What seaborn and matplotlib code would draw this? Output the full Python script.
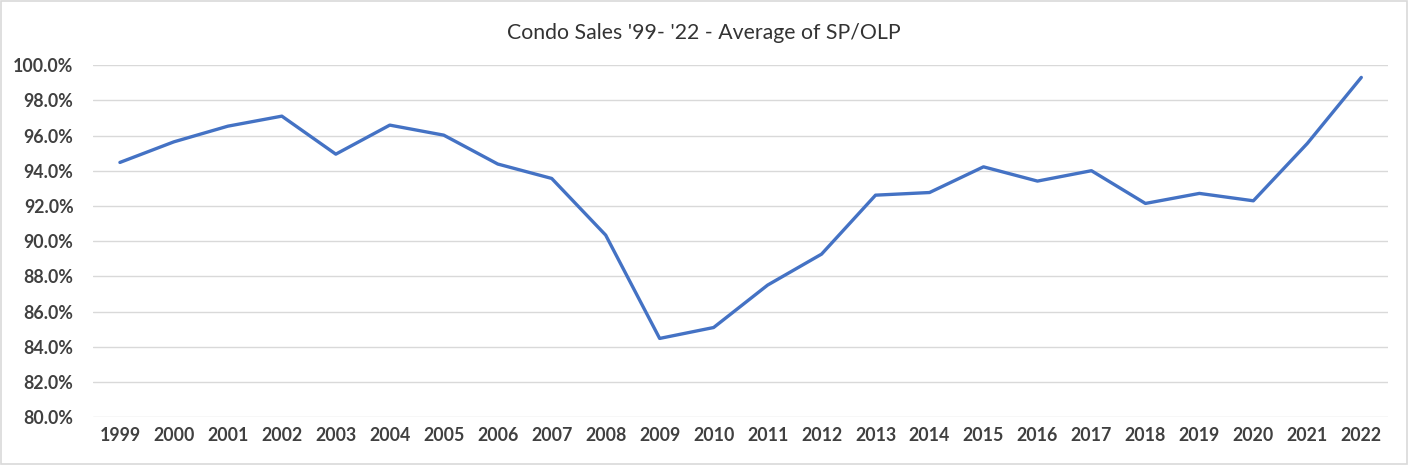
import matplotlib
matplotlib.use("Agg")
import matplotlib.pyplot as plt
import seaborn as sns
import pandas as pd
from matplotlib.patches import Rectangle

# data
years = [str(y) for y in range(1999, 2023)]
sp_olp = [94.47, 95.64, 96.53, 97.1, 94.94, 96.59, 96.02, 94.38, 93.56, 90.34,
          84.47, 85.09, 87.5, 89.26, 92.61, 92.76, 94.22, 93.41, 94.0, 92.14,
          92.71, 92.29, 95.55, 99.3]
y_ticks = [80, 82, 84, 86, 88, 90, 92, 94, 96, 98, 100]

df = pd.DataFrame({"year": years, "avg": sp_olp})

sns.set_theme(style="white")
plt.rcParams['font.family'] = ['Lato', 'DejaVu Sans']

fig = plt.figure(figsize=(14.08, 4.65), dpi=100)
ax = fig.add_axes([0.066, 0.103, 0.92, 0.757])

sns.lineplot(data=df, x="year", y="avg", ax=ax, color="#4472C4", linewidth=2.4, sort=False)

ax.set_xlim(-0.5, len(years) - 0.5)
ax.set_ylim(80, 100)
ax.set_yticks(y_ticks, labels=[f"{v:.1f}%" for v in y_ticks], fontweight="bold")
ax.set_xticks(range(len(years)), labels=years, fontweight="bold")
ax.grid(axis="y", color="#D9D9D9", linewidth=1.0)
ax.set_axisbelow(True)
for s in ax.spines.values():
    s.set_visible(False)
ax.tick_params(axis="both", length=0, labelsize=12.8, labelcolor="#404040")
ax.tick_params(axis="y", pad=14)
ax.tick_params(axis="x", pad=7)
ax.set_xlabel("")
ax.set_ylabel("")

fig.text(0.5, 0.93, "Condo Sales '99- '22 - Average of SP/OLP", ha="center", va="center",
         fontsize=15.3, color="#333333")

# light chart border like the spreadsheet chart area
fig.patches.append(Rectangle((0.001, 0.002), 0.998, 0.996, transform=fig.transFigure,
                             fill=False, edgecolor="#D9D9D9", linewidth=1.2))

fig.savefig("out.png", dpi=100)
